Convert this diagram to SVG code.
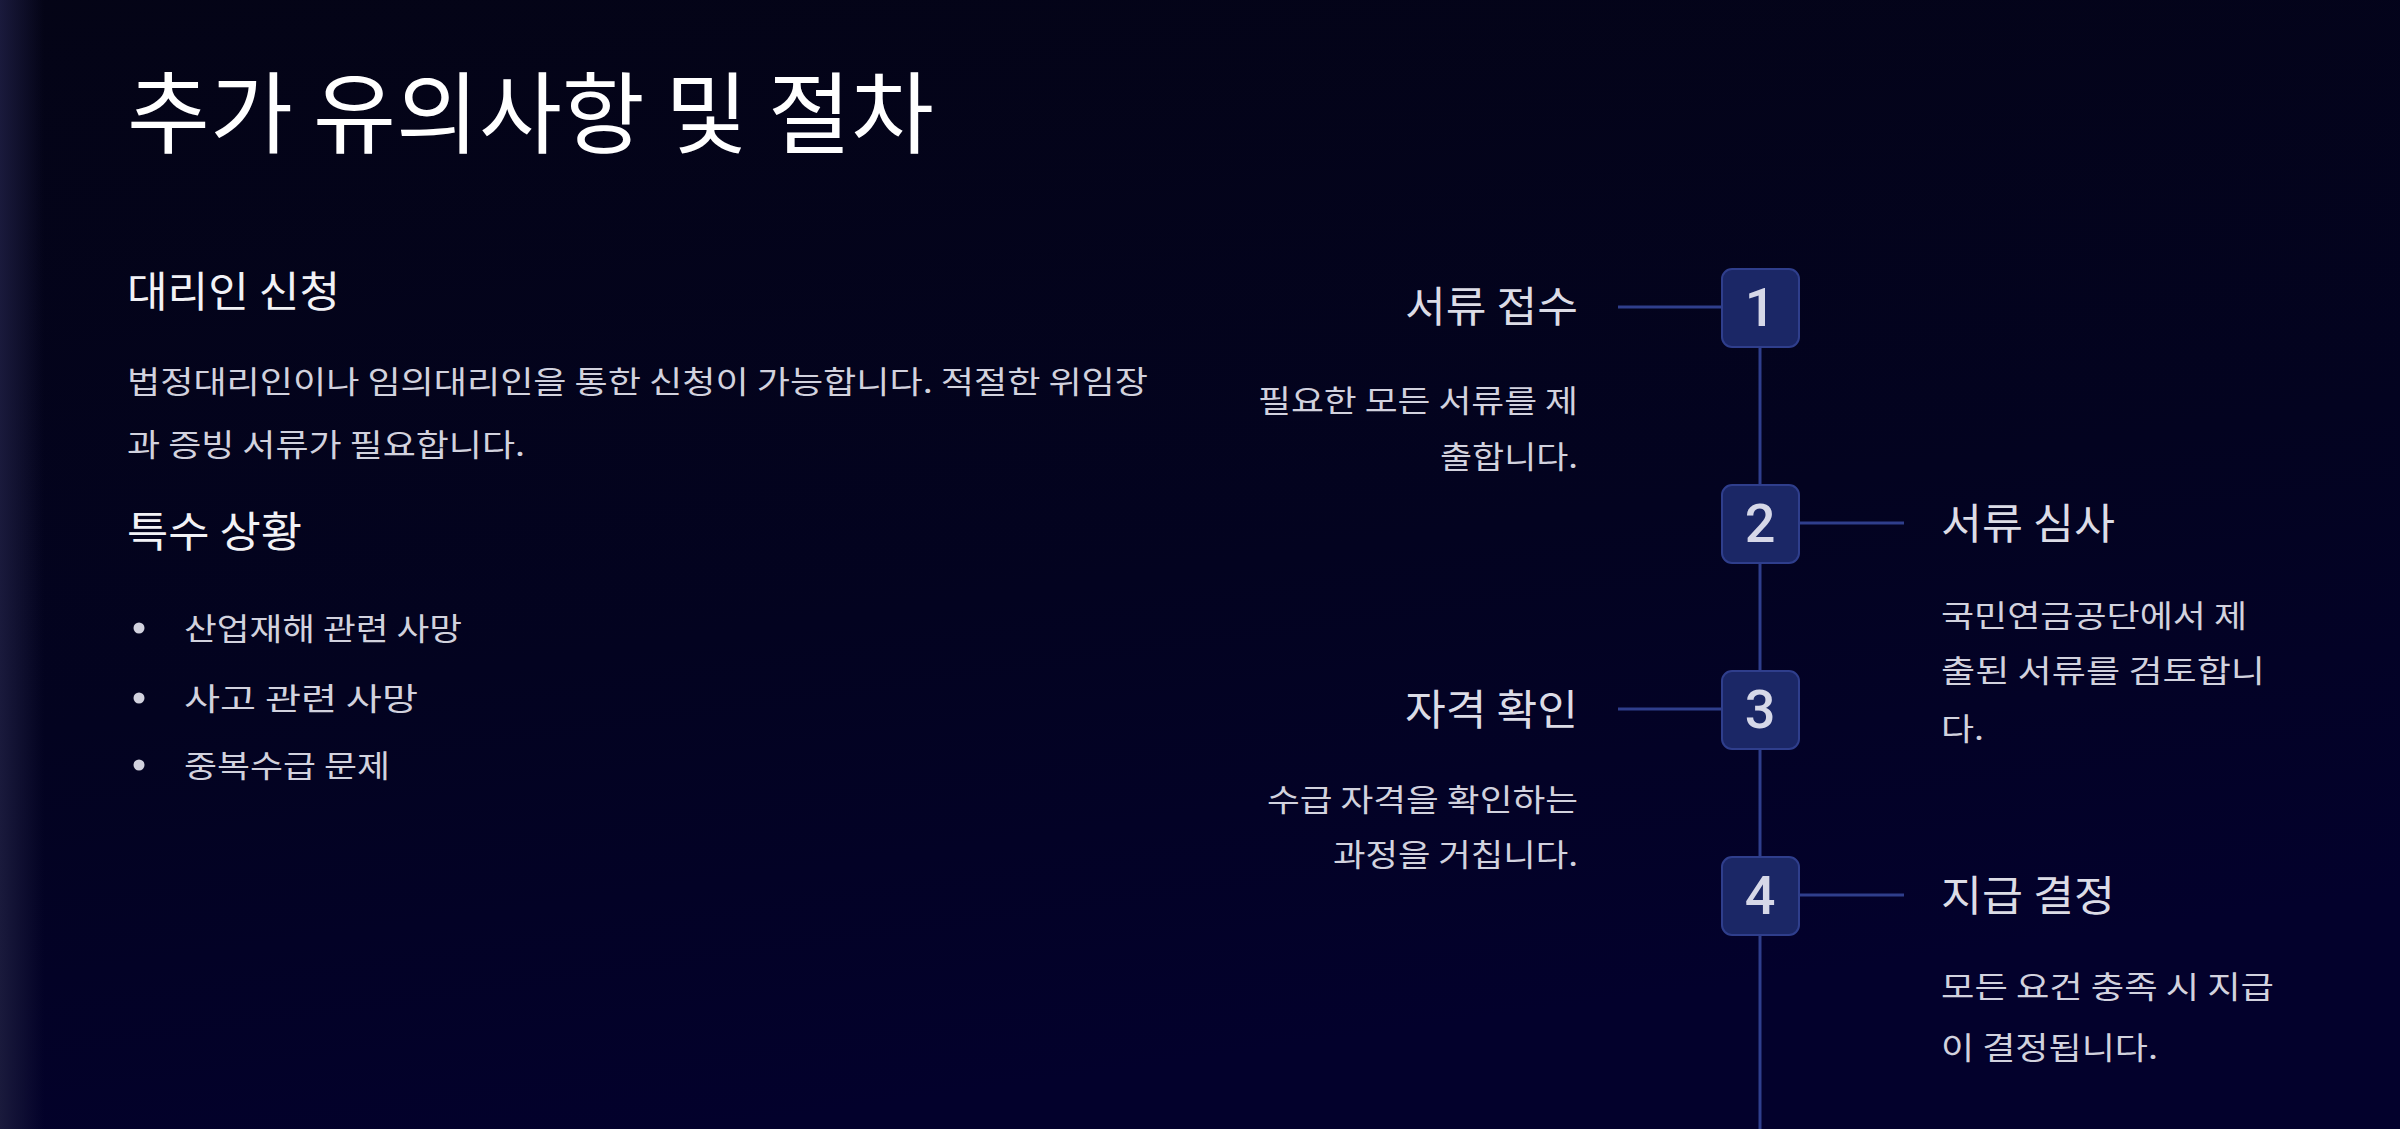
<svg xmlns="http://www.w3.org/2000/svg" width="2400" height="1129" viewBox="0 0 2400 1129">
<defs>
<linearGradient id="bg" x1="0" y1="0" x2="0.3" y2="1">
<stop offset="0" stop-color="#040416"/>
<stop offset="0.6" stop-color="#030320"/>
<stop offset="1" stop-color="#03012c"/>
</linearGradient>
<linearGradient id="edge" x1="0" y1="0" x2="1" y2="0">
<stop offset="0" stop-color="#1a1a3c" stop-opacity="1"/>
<stop offset="1" stop-color="#1a1a3c" stop-opacity="0"/>
</linearGradient>
<style>
.kr{font-family:"Noto Sans CJK KR","Noto Sans",sans-serif}
.title{font-size:89px;fill:#ffffff}
.h{font-size:42px;fill:#f2f2f6}
.body{font-size:31px;fill:#d2d2de}
.st{font-size:42px;fill:#dcdce6}
.num{font-family:Roboto,"Noto Sans",sans-serif;font-size:54px;font-weight:500;fill:#d6d8e8}
.box{fill:#1b2766;stroke:#2f3e8c;stroke-width:2}
.ln{stroke:#2f3e8c;stroke-width:3;fill:none}
</style>
</defs>
<rect width="2400" height="1129" fill="url(#bg)"/>
<rect width="44" height="1129" fill="url(#edge)"/>

<g id="title"><text class="kr title" x="127" y="146" textLength="807" lengthAdjust="spacingAndGlyphs">추가 유의사항 및 절차</text></g>

<g id="agent">
<text class="kr h" x="127" y="307" textLength="213" lengthAdjust="spacingAndGlyphs">대리인 신청</text>
<text class="kr body" x="127" y="393" textLength="1021" lengthAdjust="spacingAndGlyphs">법정대리인이나 임의대리인을 통한 신청이 가능합니다. 적절한 위임장</text>
<text class="kr body" x="127" y="456" textLength="398" lengthAdjust="spacingAndGlyphs">과 증빙 서류가 필요합니다.</text>
</g>

<g id="special">
<text class="kr h" x="127" y="547" textLength="175" lengthAdjust="spacingAndGlyphs">특수 상황</text>
<circle cx="139" cy="628" r="5.5" fill="#d2d2de"/>
<text class="kr body" x="184" y="640" textLength="278" lengthAdjust="spacingAndGlyphs">산업재해 관련 사망</text>
<circle cx="139" cy="698" r="5.5" fill="#d2d2de"/>
<text class="kr body" x="184" y="710" textLength="234" lengthAdjust="spacingAndGlyphs">사고 관련 사망</text>
<circle cx="139" cy="765" r="5.5" fill="#d2d2de"/>
<text class="kr body" x="184" y="777" textLength="206" lengthAdjust="spacingAndGlyphs">중복수급 문제</text>
</g>

<g id="connectors">
<line class="ln" x1="1760" y1="307" x2="1760" y2="1129"/>
<line class="ln" x1="1618" y1="307" x2="1722" y2="307"/>
<line class="ln" x1="1798" y1="523" x2="1904" y2="523"/>
<line class="ln" x1="1618" y1="709" x2="1722" y2="709"/>
<line class="ln" x1="1798" y1="895" x2="1904" y2="895"/>
</g>

<g id="step1">
<rect class="box" x="1722" y="269" width="77" height="78" rx="10"/>
<text class="num" x="1760" y="326" text-anchor="middle">1</text>
<text class="kr st" x="1578" y="322" text-anchor="end" textLength="173" lengthAdjust="spacingAndGlyphs">서류 접수</text>
<text class="kr body" x="1578" y="412" text-anchor="end" textLength="320" lengthAdjust="spacingAndGlyphs">필요한 모든 서류를 제</text>
<text class="kr body" x="1578" y="468" text-anchor="end" textLength="138" lengthAdjust="spacingAndGlyphs">출합니다.</text>
</g>

<g id="step2">
<rect class="box" x="1722" y="485" width="77" height="78" rx="10"/>
<text class="num" x="1760" y="542" text-anchor="middle">2</text>
<text class="kr st" x="1941" y="539" textLength="174" lengthAdjust="spacingAndGlyphs">서류 심사</text>
<text class="kr body" x="1941" y="627" textLength="306" lengthAdjust="spacingAndGlyphs">국민연금공단에서 제</text>
<text class="kr body" x="1941" y="682" textLength="324" lengthAdjust="spacingAndGlyphs">출된 서류를 검토합니</text>
<text class="kr body" x="1941" y="740" textLength="43" lengthAdjust="spacingAndGlyphs">다.</text>
</g>

<g id="step3">
<rect class="box" x="1722" y="671" width="77" height="78" rx="10"/>
<text class="num" x="1760" y="728" text-anchor="middle">3</text>
<text class="kr st" x="1578" y="725" text-anchor="end" textLength="173" lengthAdjust="spacingAndGlyphs">자격 확인</text>
<text class="kr body" x="1578" y="811" text-anchor="end" textLength="311" lengthAdjust="spacingAndGlyphs">수급 자격을 확인하는</text>
<text class="kr body" x="1578" y="866" text-anchor="end" textLength="245" lengthAdjust="spacingAndGlyphs">과정을 거칩니다.</text>
</g>

<g id="step4">
<rect class="box" x="1722" y="857" width="77" height="78" rx="10"/>
<text class="num" x="1760" y="914" text-anchor="middle">4</text>
<text class="kr st" x="1941" y="911" textLength="174" lengthAdjust="spacingAndGlyphs">지급 결정</text>
<text class="kr body" x="1941" y="998" textLength="333" lengthAdjust="spacingAndGlyphs">모든 요건 충족 시 지급</text>
<text class="kr body" x="1941" y="1059" textLength="217" lengthAdjust="spacingAndGlyphs">이 결정됩니다.</text>
</g>
</svg>
